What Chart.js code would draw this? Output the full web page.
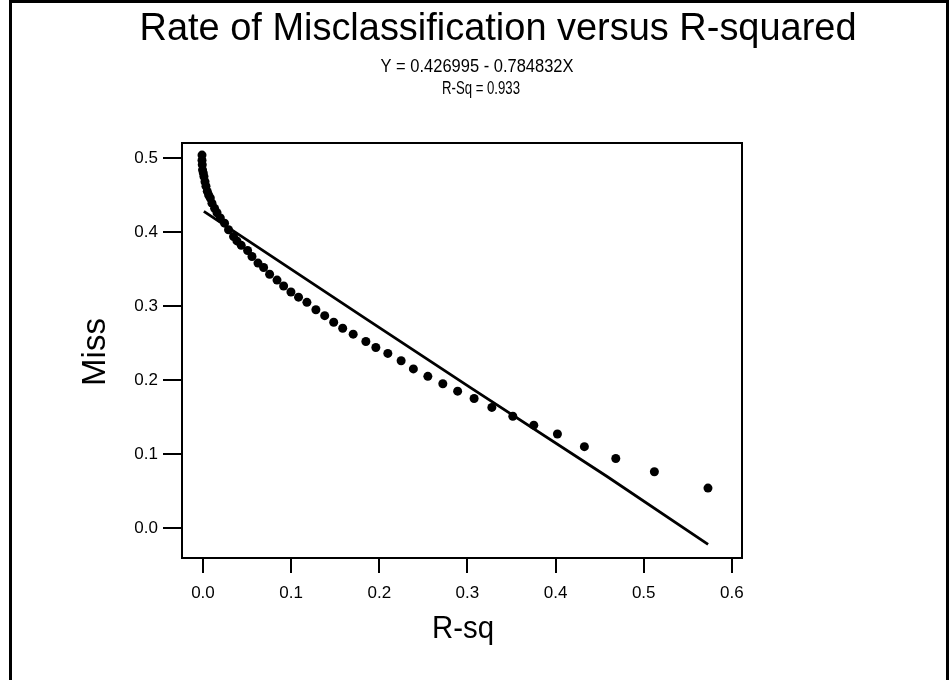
<!DOCTYPE html>
<html lang="en">
<head>
  <meta charset="UTF-8">
  <title>Rate of Misclassification versus R-squared</title>
  <script src="https://cdn.jsdelivr.net/npm/chart.js"></script>
  <style>
    html, body { margin: 0; padding: 0; background: #fff; }
    #wrap { width: 951px; height: 680px; }
  </style>
</head>
<body>
  <div id="wrap">
    <canvas id="grafico" width="951" height="680"></canvas>
  </div>
  <script>
    // values
    const rsq = [
      -0.0011, -0.0011, -0.0008, -0.0005, 0.0003, 0.0011, 0.0023, 0.0034, 0.0049, 0.0064,
      0.0083, 0.0102, 0.0132, 0.0159, 0.0197, 0.0245, 0.0290, 0.0347, 0.0385, 0.0434,
      0.0506, 0.0556, 0.0624, 0.0688, 0.0756, 0.0840, 0.0915, 0.0998, 0.1084, 0.1179,
      0.1281, 0.1381, 0.1483, 0.1585, 0.1704, 0.1848, 0.1961, 0.2097, 0.2248, 0.2387,
      0.2551, 0.2721, 0.2889, 0.3076, 0.3277, 0.3515, 0.3753, 0.4021, 0.4327, 0.4683,
      0.5121, 0.5729
    ];
    const miss = [
      0.504, 0.497, 0.491, 0.484, 0.480, 0.475, 0.468, 0.462, 0.455, 0.450,
      0.446, 0.439, 0.432, 0.426, 0.419, 0.412, 0.403, 0.394, 0.388, 0.382,
      0.375, 0.367, 0.358, 0.352, 0.343, 0.335, 0.327, 0.319, 0.312, 0.305,
      0.295, 0.287, 0.278, 0.270, 0.262, 0.252, 0.244, 0.236, 0.226, 0.215,
      0.205, 0.195, 0.185, 0.175, 0.163, 0.151, 0.139, 0.127, 0.110, 0.094,
      0.076, 0.054
    ];
    // fitted line, read at a few places along it
    const fitX = [0.001, 0.182, 0.303, 0.458, 0.573];
    const fitY = [0.428, 0.285, 0.190, 0.070, -0.022];

    const xTicks = [0.0, 0.1, 0.2, 0.3, 0.4, 0.5, 0.6];
    const yTicks = [0.0, 0.1, 0.2, 0.3, 0.4, 0.5];

    const titulo = "Rate of Misclassification versus R-squared";
    const equacao = "Y = 0.426995 - 0.784832X";
    const rsqTexto = "R-Sq = 0.933";
    const tituloX = "R-sq";
    const tituloY = "Miss";

    const fonte = "'Liberation Sans', Arial, sans-serif";

    // horizontal squeeze (the original renders its text rather tight)
    function escala(ctx, txt, size, largura) {
      ctx.save();
      ctx.font = size + "px " + fonte;
      const w = ctx.measureText(txt).width;
      ctx.restore();
      return Math.min(1, largura / w);
    }

    function texto(ctx, txt, x, y, size, k) {
      ctx.save();
      ctx.font = size + "px " + fonte;
      ctx.translate(x, y);
      ctx.scale(k, 1);
      ctx.textAlign = "center";
      ctx.textBaseline = "alphabetic";
      ctx.fillStyle = "#000";
      ctx.fillText(txt, 0, 0);
      ctx.restore();
    }

    const moldura = {
      id: "moldura",
      beforeDraw(chart) {
        const ctx = chart.ctx;
        ctx.save();
        ctx.fillStyle = "#fff";
        ctx.fillRect(0, 0, chart.width, chart.height);
        ctx.fillStyle = "#000";
        ctx.fillRect(9, 0, 3, chart.height);
        ctx.fillRect(9, 0, 940, 3);
        ctx.fillRect(946, 0, 3, chart.height);
        ctx.restore();
      },
      afterDraw(chart) {
        const ctx = chart.ctx;
        const a = chart.chartArea;
        ctx.save();
        ctx.strokeStyle = "#000";
        ctx.lineWidth = 2;
        ctx.strokeRect(a.left, a.top, a.right - a.left, a.bottom - a.top);
        ctx.restore();

        texto(ctx, titulo, 498, 40, 38, escala(ctx, titulo, 38, 717));
        texto(ctx, equacao, 477, 72, 18, escala(ctx, equacao, 18, 193));
        texto(ctx, rsqTexto, 481, 94, 18, escala(ctx, rsqTexto, 18, 78));
        texto(ctx, tituloX, 463, 638, 32, escala(ctx, tituloX, 32, 62));

        ctx.save();
        ctx.translate(105, 352);
        ctx.rotate(-Math.PI / 2);
        ctx.font = "33px " + fonte;
        ctx.textAlign = "center";
        ctx.fillStyle = "#000";
        ctx.fillText(tituloY, 0, 0);
        ctx.restore();
      }
    };

    const pontos = rsq.map((v, i) => ({ x: v, y: miss[i] }));
    const reta = fitX.map((v, i) => ({ x: v, y: fitY[i] }));

    new Chart(document.getElementById("grafico"), {
      type: "scatter",
      data: {
        datasets: [
          {
            label: "Miss",
            data: pontos,
            backgroundColor: "#000",
            borderWidth: 0,
            pointRadius: 4.5,
            pointHoverRadius: 4.5
          },
          {
            label: "Fit",
            data: reta,
            showLine: true,
            borderColor: "#000",
            borderWidth: 2.8,
            pointRadius: 0,
            tension: 0
          }
        ]
      },
      options: {
        responsive: false,
        animation: false,
        events: [],
        layout: { padding: { left: 12, right: 209, top: 143, bottom: 0 } },
        plugins: {
          legend: { display: false },
          tooltip: { enabled: false }
        },
        scales: {
          x: {
            type: "linear",
            min: -0.0238,
            max: 0.6115,
            afterFit(s) { s.height = 680 - 558; },
            afterBuildTicks(s) { s.ticks = xTicks.map(v => ({ value: v })); },
            grid: { drawOnChartArea: false, color: "#000", lineWidth: 2, tickLength: 15 },
            border: { display: false },
            ticks: {
              color: "#000",
              padding: 10,
              font: { family: fonte, size: 17 },
              callback: v => v.toFixed(1)
            }
          },
          y: {
            type: "linear",
            min: -0.0405,
            max: 0.5203,
            afterFit(s) { s.width = 182 - 12; },
            afterBuildTicks(s) { s.ticks = yTicks.map(v => ({ value: v })); },
            grid: { drawOnChartArea: false, color: "#000", lineWidth: 2, tickLength: 19 },
            border: { display: false },
            ticks: {
              color: "#000",
              padding: 5,
              font: { family: fonte, size: 17 },
              callback: v => v.toFixed(1)
            }
          }
        }
      },
      plugins: [moldura]
    });
  </script>
</body>
</html>
